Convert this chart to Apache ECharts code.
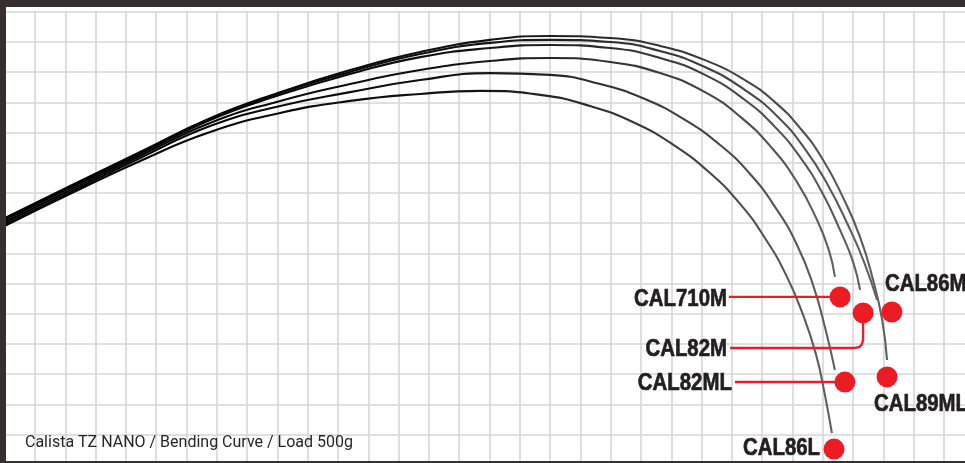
<!DOCTYPE html>
<html>
<head>
<meta charset="utf-8">
<script src="https://cdn.jsdelivr.net/npm/echarts@6/dist/echarts.min.js"></script>
<style>
html,body{margin:0;padding:0;background:#fff;overflow:hidden;width:965px;height:463px;}
#chart{width:975px;height:465px;}
</style>
</head>
<body>
<div id="chart"></div>
<script>
// Units: one grid cell = 10 units on both axes
var rodNames = ['CAL89ML', 'CAL86M', 'CAL82M', 'CAL710M', 'CAL82ML', 'CAL86L'];

var cal89mlX = [0.1, 21.6, 44.7, 67.8, 90.9, 114.0, 137.1, 160.2, 180.0, 199.8, 216.3, 231.1, 244.3, 254.2, 262.5, 269.7, 276.3, 282.3, 286.6, 289.6, 291.2];
var cal89mlY = [81.7, 92.3, 103.6, 114.8, 123.4, 130.7, 136.7, 140.7, 142.0, 141.3, 138.7, 134.0, 127.4, 120.1, 111.5, 101.6, 89.3, 75.4, 61.2, 47.9, 34.7];

var cal86mX = [0.1, 21.6, 44.7, 67.8, 90.9, 114.0, 137.1, 160.2, 180.0, 199.8, 216.3, 231.1, 244.3, 255.2, 264.1, 271.7, 278.3, 283.6, 287.9];
var cal86mY = [81.4, 92.0, 103.2, 114.5, 123.1, 130.1, 136.0, 139.7, 140.7, 140.0, 137.0, 131.7, 124.1, 115.2, 104.6, 92.6, 79.4, 67.2, 54.6];

var cal82mX = [0.1, 21.6, 44.7, 67.8, 90.9, 114.0, 137.1, 160.2, 180.0, 199.8, 216.3, 231.1, 244.3, 254.2, 262.5, 269.7, 275.7, 280.0, 282.3];
var cal82mY = [81.1, 91.7, 102.9, 114.2, 122.5, 129.4, 135.0, 138.0, 139.0, 138.0, 134.7, 129.1, 120.8, 111.9, 101.9, 90.3, 77.7, 67.2, 57.9];

var cal710mX = [0.1, 21.6, 44.7, 67.8, 90.9, 114.0, 137.1, 160.2, 180.0, 199.8, 216.3, 231.1, 243.3, 253.2, 261.5, 267.8, 272.0, 274.0];
var cal710mY = [80.4, 91.0, 102.3, 113.2, 120.5, 126.1, 130.7, 133.7, 134.7, 133.4, 129.7, 123.4, 114.8, 104.9, 93.6, 81.7, 71.1, 62.2];

var cal82mlX = [0.1, 21.6, 44.7, 67.8, 90.9, 114.0, 137.1, 160.2, 180.0, 196.5, 211.3, 224.5, 236.1, 246.0, 254.5, 261.5, 266.8, 270.7, 274.0];
var cal82mlY = [79.7, 90.3, 101.6, 112.2, 118.8, 123.4, 127.4, 129.7, 129.1, 126.1, 121.1, 114.2, 105.9, 96.3, 85.0, 72.8, 59.5, 45.6, 31.4];

var cal86lX = [0.1, 21.6, 44.7, 67.8, 90.9, 114.0, 137.1, 156.9, 176.7, 193.2, 208.0, 221.2, 232.8, 242.7, 250.9, 257.9, 263.5, 267.8, 270.7, 273.0];
var cal86lY = [79.1, 89.7, 100.6, 110.2, 116.5, 120.5, 122.8, 123.8, 122.5, 118.8, 113.2, 105.6, 96.6, 86.4, 75.1, 62.8, 49.6, 36.4, 23.1, 10.5];

// Tip markers (red dots)
var dotNames = ['CAL710M', 'CAL82M', 'CAL86M', 'CAL82ML', 'CAL89ML', 'CAL86L'];
var dotX = [275.7, 283.3, 292.8, 277.3, 291.2, 273.7];
var dotY = [55.6, 50.3, 50.6, 27.4, 29.1, 5.2];

// Label anchors
var labelNames = ['CAL710M', 'CAL82M', 'CAL82ML', 'CAL86L', 'CAL86M', 'CAL89ML'];
var labelX = [238.4, 238.4, 240.0, 269.1, 290.5, 286.9];
var labelY = [54.9, 38.2, 26.9, 5.4, 59.6, 19.9];
var labelAlign = ['right', 'right', 'right', 'right', 'left', 'left'];

// Leader lines
var lead710mX = [239.0, 272.4];
var lead710mY = [55.6, 55.6];
var lead82mX = [239.4, 280.6, 282.1, 282.9, 283.3, 283.3];
var lead82mY = [38.7, 38.7, 39.0, 39.9, 41.4, 48.0];
var lead82mlX = [241.0, 275.0];
var lead82mlY = [27.4, 27.4];

var titleText = 'Calista TZ NANO / Bending Curve / Load 500g';

function zip(xs, ys) { return xs.map(function (x, i) { return [x, ys[i]]; }); }

var chart = echarts.init(document.getElementById('chart'), null, {renderer: 'canvas'});

var curveSets = [
  ['CAL89ML', cal89mlX, cal89mlY],
  ['CAL86M', cal86mX, cal86mY],
  ['CAL82M', cal82mX, cal82mY],
  ['CAL710M', cal710mX, cal710mY],
  ['CAL82ML', cal82mlX, cal82mlY],
  ['CAL86L', cal86lX, cal86lY]
];

var series = curveSets.map(function (c) {
  return {
    name: c[0], type: 'line', data: zip(c[1], c[2]), smooth: 0.5, symbol: 'none',
    lineStyle: {
      width: 2.1,
      color: new echarts.graphic.LinearGradient(0, 0, 1, 0, [
        {offset: 0, color: '#000'}, {offset: 0.55, color: '#111'}, {offset: 1, color: '#626262'}
      ])
    },
    z: 3, silent: true
  };
});

var redC = '#ec1c24';
[[lead710mX, lead710mY], [lead82mX, lead82mY], [lead82mlX, lead82mlY]].forEach(function (l) {
  series.push({
    type: 'line', data: zip(l[0], l[1]), symbol: 'none', smooth: false,
    lineStyle: {width: 2.4, color: redC}, z: 4, silent: true
  });
});

series.push({
  type: 'scatter', data: zip(dotX, dotY), symbolSize: 21,
  itemStyle: {color: redC, opacity: 1}, z: 5, silent: true
});

chart.setOption({
  animation: false,
  backgroundColor: '#ffffff',
  grid: {left: 4.7, right: 0.7, top: 11.8, bottom: 0.2, containLabel: false},
  xAxis: {
    type: 'value', min: 0, max: 320, interval: 10,
    axisLine: {show: false}, axisTick: {show: false}, axisLabel: {show: false},
    splitLine: {show: true, lineStyle: {color: '#d6d6d6', width: 1.6}}
  },
  yAxis: {
    type: 'value', min: 0, max: 150, interval: 10,
    axisLine: {show: false}, axisTick: {show: false}, axisLabel: {show: false},
    splitLine: {show: true, lineStyle: {color: '#d6d6d6', width: 1.6}}
  },
  series: series
});

var graphics = [
  {type: 'rect', shape: {x: 0, y: 0, width: 975, height: 7}, style: {fill: '#35302f'}, z: 100},
  {type: 'rect', shape: {x: 0, y: 0, width: 6, height: 465}, style: {fill: '#35302f'}, z: 100},
  {type: 'rect', shape: {x: 0, y: 461, width: 975, height: 4}, style: {fill: '#35302f'}, z: 100},
  {type: 'text', x: 25, y: 443, z: 100,
    style: {text: titleText, font: '16px Roboto, sans-serif', fill: '#262626', textVerticalAlign: 'middle'}}
];
labelNames.forEach(function (n, i) {
  var p = chart.convertToPixel({gridIndex: 0}, [labelX[i], labelY[i]]);
  graphics.push({
    type: 'text', x: p[0], y: p[1], scaleX: 0.85, z: 100,
    style: {
      text: n, x: 0, y: 0, textAlign: labelAlign[i], textVerticalAlign: 'middle',
      font: 'bold 24px "Liberation Sans", Arial, sans-serif', fill: '#231f20',
      stroke: '#231f20', lineWidth: 0.7
    }
  });
});
chart.setOption({graphic: graphics});
</script>
</body>
</html>
